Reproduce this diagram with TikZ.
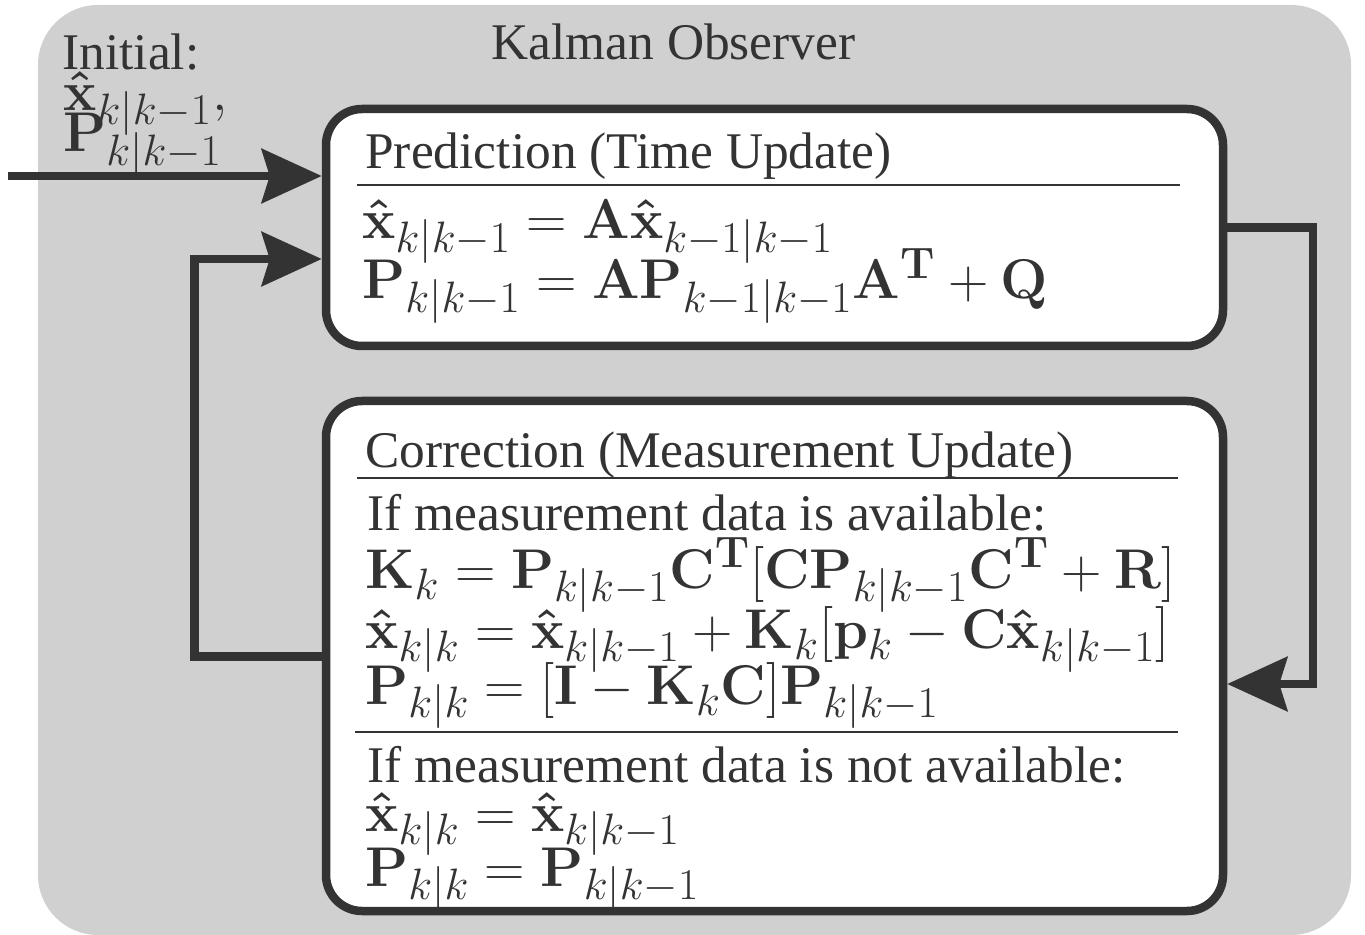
\RequirePackage{fix-cm}
\documentclass[tikz,border=0pt]{standalone}
\usepackage[no-math]{fontspec}
\setmainfont{Liberation Serif}
\usepackage{amsmath}
\DeclareMathSizes{28}{28}{22}{17}
\usetikzlibrary{arrows.meta}
\definecolor{dk}{HTML}{333333}
\definecolor{bg}{HTML}{D0D0D0}
\newcommand{\xh}{\mathbf{\hat{x}}}
\begin{document}
\begin{tikzpicture}[x=0.5pt,y=-0.5pt,
  txt/.style={anchor=base west,inner sep=0pt,text=dk,font=\fontsize{25.7}{30}\selectfont},
  mth/.style={anchor=base west,inner sep=0pt,text=dk,font=\fontsize{28}{32}\selectfont},
  box/.style={draw=dk,line width=4.25pt,fill=white,rounded corners=18pt,shape=rectangle,inner sep=0pt,minimum width=448.5pt},
  conn/.style={draw=dk,line width=4.25pt,-{Stealth[length=30pt,width=27pt,inset=4pt]}},
  rulel/.style={draw=dk,line width=1pt}]
\useasboundingbox (0,0) rectangle (1365,935);
\fill[bg,rounded corners=30pt] (38,5) rectangle (1351,935);
% boxes
\node[box,minimum height=118.5pt] (pred) at (774.5,227.5) {};
\node[box,minimum height=255pt] (corr) at (774.5,656) {};
% title and initial
\node[txt,anchor=base] (title) at (673.5,60) {Kalman Observer};
\node[txt] (init) at (62,70) {Initial:};
\node[mth] (initx) at (63,111) {$\xh_{k|k-1},$};
\node[mth] (initp) at (63,152) {$\mathbf{P}_{k|k-1}$};
% prediction
\node[txt] (ph) at (365,169) {Prediction (Time Update)};
\coordinate (pr1) at (357,185);
\coordinate (pr2) at (1180,185);
\draw[rulel] (pr1) -- (pr2);
\node[mth] (pe1) at (362,239) {$\xh_{k|k-1} = \mathbf{A}\xh_{k-1|k-1}$};
\node[mth] (pe2) at (362,299) {$\mathbf{P}_{k|k-1} = \mathbf{A}\mathbf{P}_{k-1|k-1}\mathbf{A}^{\mathbf{T}} + \mathbf{Q}$};
% correction
\node[txt] (ch) at (365,467) {Correction (Measurement Update)};
\coordinate (cr1) at (357,478);
\coordinate (cr2) at (1178,478);
\draw[rulel] (cr1) -- (cr2);
\node[txt] (ca) at (367,530) {If measurement data is available:};
\node[mth] (ce1) at (365,588) {$\mathbf{K}_k = \mathbf{P}_{k|k-1}\mathbf{C}^{\mathbf{T}}[\mathbf{C}\mathbf{P}_{k|k-1}\mathbf{C}^{\mathbf{T}} + \mathbf{R}]$};
\node[mth] (ce2) at (365,648) {$\xh_{k|k} = \xh_{k|k-1} + \mathbf{K}_k[\mathbf{p}_k - \mathbf{C}\xh_{k|k-1}]$};
\node[mth] (ce3) at (365,704) {$\mathbf{P}_{k|k} = [\mathbf{I} - \mathbf{K}_k\mathbf{C}]\mathbf{P}_{k|k-1}$};
\coordinate (cr3) at (355,732);
\coordinate (cr4) at (1178,732);
\draw[rulel] (cr3) -- (cr4);
\node[txt] (cn) at (367,782) {If measurement data is not available:};
\node[mth] (ce4) at (365,831) {$\xh_{k|k} = \xh_{k|k-1}$};
\node[mth] (ce5) at (365,886) {$\mathbf{P}_{k|k} = \mathbf{P}_{k|k-1}$};
% connectors
\coordinate (in) at (8,176);
\draw[conn] (in) -- (in -| pred.west);
\coordinate (fbA) at (194.5,656.5);
\coordinate (fbB) at (194.5,259);
\draw[conn] (corr.west |- fbA) -- (fbA) -- (fbB) -- (pred.west |- fbB);
\coordinate (fwA) at (1313,227.5);
\coordinate (fwB) at (1313,684);
\draw[conn] (pred.east |- fwA) -- (fwA) -- (fwB) -- (corr.east |- fwB);
\end{tikzpicture}
\end{document}
